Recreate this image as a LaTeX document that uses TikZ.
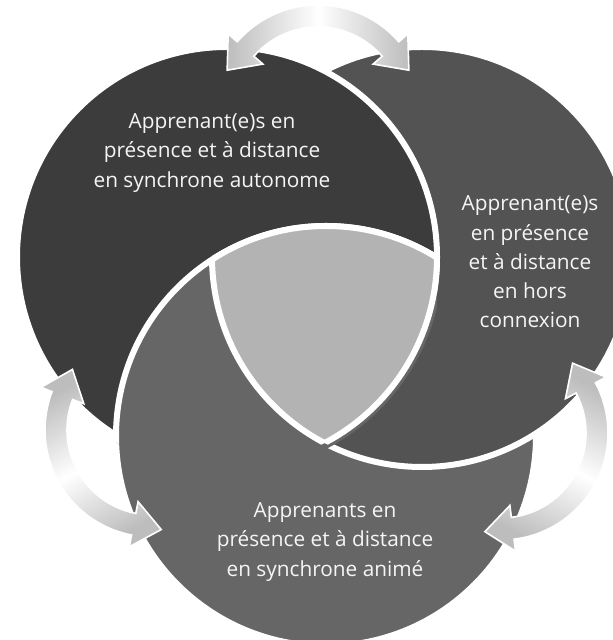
\documentclass[tikz,border=0pt]{standalone}
\usepackage{fontspec}
\setmainfont{Open Sans}
\definecolor{discA}{HTML}{3C3C3C}
\definecolor{discB}{HTML}{535353}
\definecolor{discC}{HTML}{666666}
\definecolor{core}{HTML}{B3B3B3}
\begin{document}
\begin{tikzpicture}[x=0.5pt,y=0.5pt,
    rim/.style={draw=white,line width=3pt},
    flow/.style={draw=white,line width=0.8pt,top color=gray!52,bottom color=gray!52,middle color=white},
    txt/.style={text=white!96!black,align=center,font=\fontsize{10.4}{14.6}\selectfont}]
\useasboundingbox (0,0) rectangle (613,640);
\coordinate (cA) at (227,383);
\coordinate (cB) at (422,383);
\coordinate (cC) at (326,204);
\coordinate (oAB) at (318,528);
\coordinate (oAC) at (152,210);
\coordinate (oBC) at (501,207);
\filldraw[fill=discC,rim] (cC) circle (210);
\filldraw[fill=discB,rim] (cB) circle (210);
\filldraw[fill=discA,rim] (cA) circle (210);
\begin{scope}
    \clip (cA) circle (216);
    \clip (0,0) rectangle (437,640);
    \filldraw[fill=discC,rim] (cC) circle (210);
\end{scope}
\begin{scope}
    \clip (cA) circle (210);
    \clip (cB) circle (210);
    \fill[core] (cC) circle (210);
\end{scope}
\begin{scope}
    \clip (cB) circle (210);
    \clip (cC) circle (210);
    \draw[rim] (cA) circle (210);
\end{scope}
\begin{scope}
    \clip (cA) circle (210);
    \clip (cC) circle (210);
    \draw[rim] (cB) circle (210);
\end{scope}
\begin{scope}
    \clip (cA) circle (210);
    \clip (cB) circle (210);
    \draw[rim] (cC) circle (210);
\end{scope}
\foreach \o/\a/\b/\s in {oAB/41/139/90, oAC/159/259/29.4, oBC/-83/28/-27.5}
    \draw[flow,shading angle=\s,shift={(\o)}] (\a:107) arc[start angle=\a,end angle=\b,radius=107]
        -- (\b:119) -- ({\b+16.3}:100) -- (\b:73) -- (\b:85)
        arc[start angle=\b,end angle=\a,radius=85]
        -- (\a:73) -- ({\a-16.3}:100) -- (\a:119) -- cycle;
\node[txt] (tA) at (212,487) {Apprenant(e)s en\\présence et à distance\\en synchrone autonome};
\node[txt] (tB) at (530,378) {Apprenant(e)s\\en présence\\et à distance\\en hors\\connexion};
\node[txt] (tC) at (325,98) {Apprenants en\\présence et à distance\\en synchrone animé};
\end{tikzpicture}
\end{document}
